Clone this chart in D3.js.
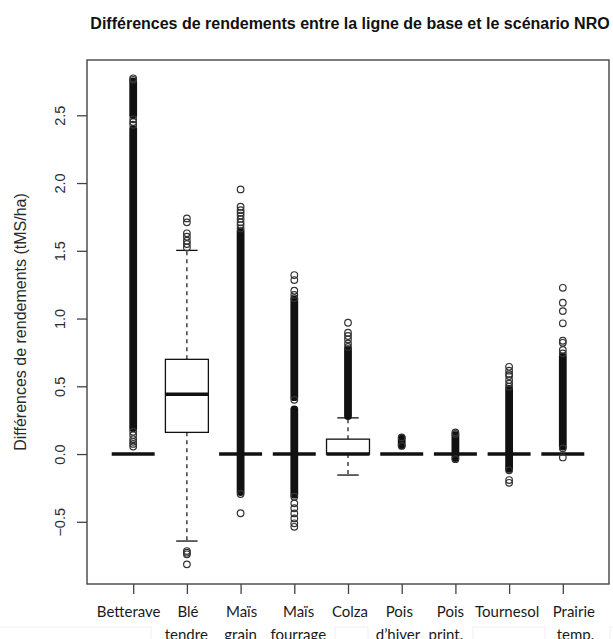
<!DOCTYPE html>
<html>
<head>
<meta charset="utf-8">
<script src="https://cdn.jsdelivr.net/npm/d3@7"></script>
<style>
  body { margin: 0; background: #fff; }
  svg { display: block; }
</style>
</head>
<body>
<svg id="chart" width="613" height="639"></svg>
<script>
// ---- Data -------------------------------------------------------------
const categories = ["Betterave", "Blé tendre", "Maïs grain", "Maïs fourrage", "Colza",
                    "Pois d’hiver", "Pois print.", "Tournesol", "Prairie temp."];

// Five-number summaries (tMS/ha)
const whiskerLow  = [0, -0.642, 0, 0, -0.155, 0, 0, 0, 0];
const q1          = [0,  0.160, 0, 0,  0.000, 0, 0, 0, 0];
const median      = [0,  0.441, 0, 0,  0.000, 0, 0, 0, 0];
const q3          = [0,  0.699, 0, 0,  0.110, 0, 0, 0, 0];
const whiskerHigh = [0,  1.503, 0, 0,  0.267, 0, 0, 0, 0];

// Individually distinguishable outliers
const outliers = [
  [2.773, 2.762, 2.47, 2.45, 2.43, 0.165, 0.14, 0.11, 0.09, 0.075, 0.055],
  [1.739, 1.710, 1.629, 1.604, 1.574, 1.550, 1.525, -0.716, -0.728, -0.740, -0.814],
  [1.953, 1.825, 1.80, 1.78, 1.76, 1.735, 1.71, 1.69, 1.665, -0.295, -0.437],
  [1.321, 1.284, 1.205, 1.175, 1.15, 0.40, -0.315, -0.364, -0.40, -0.438, -0.475, -0.511, -0.537],
  [0.969, 0.895, 0.871, 0.846, 0.815, 0.79],
  [0.123, 0.06],
  [0.16, 0.148, -0.038],
  [0.644, 0.615, 0.59, 0.576, 0.546, 0.52, 0.497, -0.12, -0.192, -0.212],
  [1.227, 1.117, 1.055, 0.965, 0.836, 0.821, 0.768, 0.743, 0.042, -0.025]
];

// Ranges where outliers are so numerous that their circles merge
const outlierRuns = [
  [[0.19, 2.40], [2.50, 2.75]],
  [],
  [[-0.28, 1.645]],
  [[0.42, 1.14], [-0.30, 0.33]],
  [[0.28, 0.775]],
  [[0.065, 0.118]],
  [[-0.03, 0.14]],
  [[-0.11, 0.48]],
  [[0.055, 0.72]]
];

const yTicks = [-0.5, 0, 0.5, 1, 1.5, 2, 2.5];
const yTickLabels = ["−0.5", "0.0", "0.5", "1.0", "1.5", "2.0", "2.5"];

const title = "Différences de rendements entre la ligne de base et le scénario NRO";
const yTitle = "Différences de rendements (tMS/ha)";

// ---- Layout -----------------------------------------------------------
const plot = { left: 87, right: 609, top: 60, bottom: 584 };
// horizontal nudges of the hand-placed category labels (px, per line)
const labelDx1 = [-4.5, 1, 1, 4.3, 2, -2.4, -5, -2, 11];
const labelDx2 = [0, -0.6, 0, 4, 0, -3.7, -9.5, 0, 12.6];

const svg = d3.select("#chart");
const x = d3.scaleLinear().domain([0.14, 9.86]).range([plot.left, plot.right]);
const y = d3.scaleLinear().domain([-0.959, 2.908]).range([plot.bottom, plot.top]);

const boxW = (x(1.4) - x(1));       // half box width (0.8 wide boxes)
const capW = boxW / 2;              // half staple width
const r = 3.3, ringW = 1.2;
const bandHalf = r + ringW / 2;
const ink = "#111";

// white backgrounds of the pasted label boxes (faint outlines)
const pasteBoxes = [[-2, 627, 153, 20], [335, 627, 33, 20], [473, 627, 72, 20], [610, 627, 10, 20]];
svg.append("g").selectAll("rect").data(pasteBoxes).join("rect")
  .attr("x", d => d[0]).attr("y", d => d[1]).attr("width", d => d[2]).attr("height", d => d[3])
  .attr("fill", "#fff").attr("stroke", "#efefef").attr("stroke-width", 1);

// Title
svg.append("text")
  .attr("x", (plot.left + plot.right) / 2 + 2).attr("y", 29)
  .attr("text-anchor", "middle")
  .style("font-family", "'Liberation Sans', Arial, sans-serif")
  .style("font-weight", "bold").style("font-size", "16px").attr("fill", "#111")
  .text(title);

// Y axis
const yAxis = svg.append("g").attr("transform", `translate(${plot.left},0)`)
  .call(d3.axisLeft(y).tickValues(yTicks).tickFormat((d, i) => yTickLabels[i]).tickSize(10).tickSizeOuter(0));
yAxis.select(".domain").remove();
yAxis.selectAll("line").attr("stroke", "#444").attr("stroke-width", 1.3);
yAxis.selectAll("text")
  .attr("x", null).attr("dy", null)
  .attr("text-anchor", "middle")
  .attr("transform", "translate(-22,0) rotate(-90)")
  .style("font-family", "'Liberation Sans', Arial, sans-serif")
  .style("font-size", "14.5px").attr("fill", "#2a2a2a");

svg.append("text")
  .attr("transform", `translate(26,${(plot.top + plot.bottom) / 2}) rotate(-90)`)
  .attr("text-anchor", "middle")
  .style("font-family", "'Liberation Sans', Arial, sans-serif")
  .style("font-size", "16px").attr("fill", "#2a2a2a")
  .text(yTitle);

// X axis ticks
const xAxis = svg.append("g").attr("transform", `translate(0,${plot.bottom})`)
  .call(d3.axisBottom(x).tickValues(d3.range(1, categories.length + 1)).tickFormat("").tickSize(10).tickSizeOuter(0));
xAxis.select(".domain").remove();
xAxis.selectAll("line").attr("stroke", "#444").attr("stroke-width", 1.3);

// Category labels (second lines run into the bottom edge)
const labels = svg.append("g")
  .style("font-family", "Lato, 'Open Sans', sans-serif")
  .style("font-size", "15px").attr("fill", "#1a1a1a")
  .attr("text-anchor", "middle");
categories.forEach((c, i) => {
  const lines = c.split(" ");
  labels.append("text").attr("x", x(i + 1) + labelDx1[i]).attr("y", 617).text(lines[0]);
  if (lines[1]) labels.append("text").attr("x", x(i + 1) + labelDx2[i]).attr("y", 639.5).text(lines[1]);
});

// Boxes
const boxes = svg.append("g");
categories.forEach((c, i) => {
  const cx = x(i + 1);
  const g = boxes.append("g");
  // whiskers
  [[q3[i], whiskerHigh[i]], [q1[i], whiskerLow[i]]].forEach(([a, b]) => {
    if (a !== b) {
      g.append("line").attr("x1", cx).attr("x2", cx).attr("y1", y(a)).attr("y2", y(b))
        .attr("stroke", ink).attr("stroke-width", 1.2).attr("stroke-dasharray", "4,4");
    }
    g.append("line").attr("x1", cx - capW).attr("x2", cx + capW).attr("y1", y(b)).attr("y2", y(b))
      .attr("stroke", ink).attr("stroke-width", 1.3);
  });
  // box
  g.append("rect").attr("x", cx - boxW).attr("width", 2 * boxW)
    .attr("y", y(q3[i])).attr("height", Math.max(0, y(q1[i]) - y(q3[i])))
    .attr("fill", "#fff").attr("stroke", ink).attr("stroke-width", 1.3);
  // median
  g.append("line").attr("x1", cx - boxW).attr("x2", cx + boxW).attr("y1", y(median[i])).attr("y2", y(median[i]))
    .attr("stroke", ink).attr("stroke-width", 3.4);
});

// Outliers
const pts = svg.append("g");
categories.forEach((c, i) => {
  const cx = x(i + 1);
  outlierRuns[i].forEach(([lo, hi]) => {
    pts.append("rect")
      .attr("x", cx - bandHalf).attr("width", 2 * bandHalf)
      .attr("y", y(hi) - bandHalf).attr("height", y(lo) - y(hi) + 2 * bandHalf)
      .attr("rx", bandHalf).attr("fill", ink);
  });
  pts.selectAll(null).data(outliers[i]).join("circle")
    .attr("cx", cx).attr("cy", d => y(d)).attr("r", r)
    .attr("fill", "none").attr("stroke", "#333").attr("stroke-width", ringW);
});

// Plot frame
svg.append("rect")
  .attr("x", plot.left).attr("y", plot.top)
  .attr("width", plot.right - plot.left).attr("height", plot.bottom - plot.top)
  .attr("fill", "none").attr("stroke", "#444").attr("stroke-width", 1.4);
</script>
</body>
</html>
